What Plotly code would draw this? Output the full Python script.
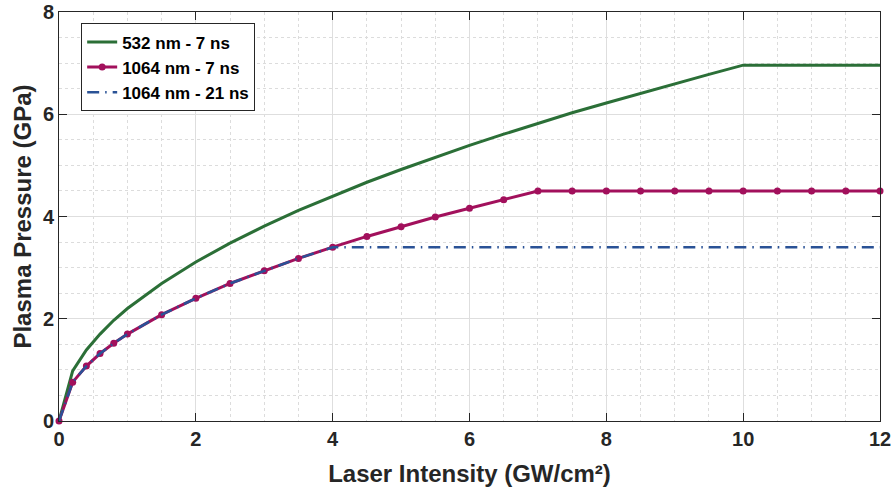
import plotly.graph_objects as go

# Laser intensity (GW/cm^2)
x_green = [0, 0.2, 0.4, 0.6, 0.8, 1.0, 1.5, 2.0, 2.5, 3.0, 3.5, 4.0, 4.5, 5.0, 5.5, 6.0,
           6.5, 7.0, 7.5, 8.0, 8.5, 9.0, 9.5, 10.0, 10.5, 11.0, 11.5, 12.0]
p_532_7ns = [0, 0.98, 1.39, 1.70, 1.97, 2.20, 2.69, 3.11, 3.48, 3.81, 4.12, 4.40, 4.67, 4.92,
             5.16, 5.39, 5.61, 5.82, 6.03, 6.22, 6.41, 6.60, 6.78, 6.96, 6.96, 6.96, 6.96, 6.96]

x_magenta = [0, 0.2, 0.4, 0.6, 0.8, 1.0, 1.5, 2.0, 2.5, 3.0, 3.5, 4.0, 4.5, 5.0, 5.5, 6.0,
             6.5, 7.0, 7.5, 8.0, 8.5, 9.0, 9.5, 10.0, 10.5, 11.0, 11.5, 12.0]
p_1064_7ns = [0, 0.76, 1.075, 1.32, 1.52, 1.70, 2.08, 2.40, 2.69, 2.94, 3.18, 3.40, 3.61, 3.80,
              3.99, 4.16, 4.33, 4.50, 4.50, 4.50, 4.50, 4.50, 4.50, 4.50, 4.50, 4.50, 4.50, 4.50]

x_blue = [0, 0.2, 0.4, 0.6, 0.8, 1.0, 1.5, 2.0, 2.5, 3.0, 3.5, 4.0, 12.0]
p_1064_21ns = [0, 0.76, 1.075, 1.32, 1.52, 1.70, 2.08, 2.40, 2.69, 2.94, 3.18, 3.40, 3.40]

x_ticks = [0, 2, 4, 6, 8, 10, 12]
y_ticks = [0, 2, 4, 6, 8]

GREEN = "#2b6f37"
MAGENTA = "#a2105c"
BLUE = "#2a5296"
DARK = "#262626"
FONT = "Liberation Sans, Arial, sans-serif"

fig = go.Figure()
fig.add_trace(go.Scatter(x=x_green, y=p_532_7ns, mode="lines", name="532 nm - 7 ns",
                         line=dict(color=GREEN, width=3), cliponaxis=False))
fig.add_trace(go.Scatter(x=x_magenta, y=p_1064_7ns, mode="lines+markers", name="1064 nm - 7 ns",
                         line=dict(color=MAGENTA, width=3),
                         marker=dict(color=MAGENTA, size=7, symbol="circle"), cliponaxis=False))
fig.add_trace(go.Scatter(x=x_blue, y=p_1064_21ns, mode="lines", name="1064 nm - 21 ns",
                         line=dict(color=BLUE, width=2.6, dash="12px,6px,1.5px,6px"),
                         cliponaxis=False))

axis_common = dict(
    showline=True, linecolor=DARK, linewidth=1, mirror="ticks",
    ticks="inside", ticklen=8, tickwidth=1, tickcolor=DARK,
    showgrid=True, gridcolor="#dedede", gridwidth=1,
    zeroline=False, automargin=False,
    tickfont=dict(family=FONT, size=20, color=DARK, weight="bold"),
)

fig.update_xaxes(
    range=[0, 12], tickvals=x_ticks, ticktext=[str(v) for v in x_ticks],
    title=dict(text="Laser Intensity (GW/cm²)", font=dict(family=FONT, size=24, color=DARK, weight="bold"),
               standoff=16),
    minor=dict(dtick=0.5, tick0=0, showgrid=True, gridcolor="#dcdcdc", griddash="dot", gridwidth=1),
    **axis_common,
)
fig.update_yaxes(
    range=[0, 8], tickvals=y_ticks, ticktext=[str(v) for v in y_ticks],
    title=dict(text="Plasma Pressure (GPa)", font=dict(family=FONT, size=24, color=DARK, weight="bold"),
               standoff=4),
    minor=dict(dtick=0.5, tick0=0, showgrid=True, gridcolor="#dcdcdc", griddash="dot", gridwidth=1),
    **axis_common,
)

fig.update_layout(
    width=894, height=491,
    margin=dict(l=59, r=14, t=12, b=70),
    plot_bgcolor="white", paper_bgcolor="white",
    font=dict(family=FONT, color=DARK),
    showlegend=True,
    legend=dict(
        x=0.027, y=0.972, xanchor="left", yanchor="top",
        bgcolor="white", bordercolor=DARK, borderwidth=1,
        font=dict(family=FONT, size=17, color="black", weight="bold"),
        tracegroupgap=0, itemwidth=30,
    ),
)

fig.write_html("out.html", config={"displayModeBar": False},
               post_script="document.body.style.margin='0';")
